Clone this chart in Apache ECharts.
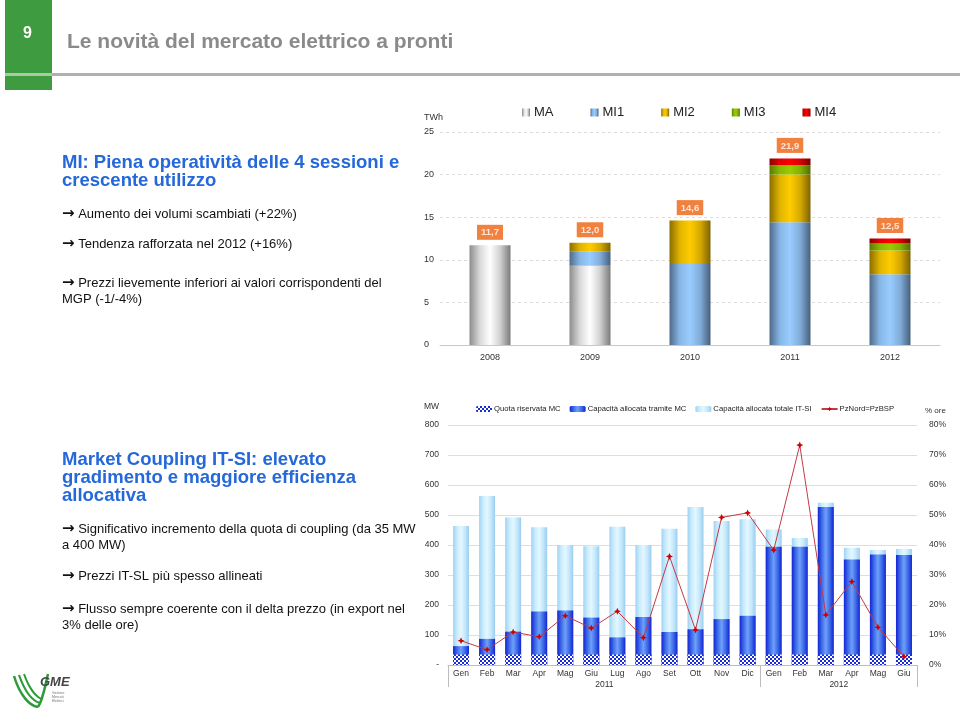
<!DOCTYPE html>
<html><head><meta charset="utf-8">
<script src="https://cdn.jsdelivr.net/npm/echarts@6/dist/echarts.min.js"></script>
<style>html,body{margin:0;padding:0;background:#fff}#c{width:960px;height:708px}</style>
</head><body><div id="c"></div>
<script>
// ---- Top chart data (TWh) ----
const years = ['2008','2009','2010','2011','2012'];
const MA  = [11.7, 9.3, 0, 0, 0];
const MI1 = [0, 1.7, 9.5, 14.4, 8.3];
const MI2 = [0, 1.0, 5.1, 5.6, 2.8];
const MI3 = [0, 0, 0, 1.1, 0.8];
const MI4 = [0, 0, 0, 0.8, 0.6];
const totals = [11.7, 12.0, 14.6, 21.9, 12.5];
const topTicks = [0, 5, 10, 15, 20, 25];

// ---- Bottom chart data (MW, % ore) ----
const months = ['Gen','Feb','Mar','Apr','Mag','Giu','Lug','Ago','Set','Ott','Nov','Dic','Gen','Feb','Mar','Apr','Mag','Giu'];
const yearGroups = ['2011','2012'];
const quotaMC = [35,35,35,35,35,35,35,35,35,35,35,35,35,35,35,35,35,35];
const capMC   = [63,87,111,178,182,158,92,160,110,119,153,164,394,394,527,352,368,367];
const capTot  = [463,563,492,459,400,396,461,400,454,527,480,486,452,423,541,391,383,387];
const pzEqual = [8.1,5.1,11.0,9.4,16.4,12.3,17.9,9.1,36.2,11.7,49.2,50.7,38.3,73.3,16.7,27.8,12.6,2.8];

const FONT = '"Liberation Sans", Arial, sans-serif';
function hg(stops){return {type:'linear',x:0,y:0,x2:1,y2:0,colorStops:stops.map((c,i)=>({offset:i/(stops.length-1),color:c}))};}

const cv = document.createElement('canvas'); cv.width=4; cv.height=4;
const cx = cv.getContext('2d'); cx.fillStyle='#ffffff'; cx.fillRect(0,0,4,4);
cx.fillStyle='#1b2bd6'; cx.fillRect(0,0,2,2); cx.fillRect(2,2,2,2);

const chart = echarts.init(document.getElementById('c'), null, {renderer:'canvas'});

const bodyStyle = {fill:'#111', fontSize:13, fontFamily:FONT, lineHeight:16,
  rich:{a:{fontSize:15, fontFamily:'"DejaVu Sans"', fontWeight:'bold', fill:'#111', lineHeight:16}}};
function txt(x,y,t,st){return {type:'text',left:x,top:y,z:10,style:Object.assign({text:t},st)};}
const headStyle = {fill:'#2468D9', font:'bold 18.5px '+FONT, lineHeight:18};

const option = {
  animation:false,
  textStyle:{fontFamily:FONT},
  grid:[
    {left:440, top:132, width:500, height:213},
    {left:448, top:425, width:469, height:240}
  ],
  legend:[
    {data:['MA','MI1','MI2','MI3','MI4'], left:517, top:101, itemWidth:8, itemHeight:8, itemGap:37,
     icon:'rect', textStyle:{fontSize:13, color:'#222', padding:[0,0,0,-1]}},
    {data:['Quota riservata MC','Capacità allocata tramite MC','Capacità allocata totale IT-SI','PzNord=PzBSP'],
     left:471, top:400, itemWidth:16, itemHeight:6, itemGap:9, textStyle:{fontSize:7.7, color:'#222', padding:[0,0,0,-3]}}
  ],
  xAxis:[
    {gridIndex:0, type:'category', data:years, axisLine:{lineStyle:{color:'#c8c8c8'}},
     axisTick:{length:4, lineStyle:{color:'#c8c8c8'}}, axisLabel:{fontSize:9, color:'#333', margin:8}},
    {gridIndex:1, type:'category', data:months, position:'bottom', axisLine:{lineStyle:{color:'#bdbdbd'}},
     axisTick:{length:12, interval:0, lineStyle:{color:'#bdbdbd'}}, axisLabel:{fontSize:8.5, color:'#333', margin:4, interval:0}},
    {gridIndex:1, type:'value', min:0, max:18, interval:6, position:'bottom', offset:0,
     axisLine:{show:false}, splitLine:{show:false},
     axisTick:{show:true, length:22, customValues:[0,12,18], lineStyle:{color:'#bdbdbd'}},
     axisLabel:{fontSize:8.5, color:'#333', margin:15, customValues:[6,15], formatter:v=>v===6?yearGroups[0]:(v===15?yearGroups[1]:'')}}
  ],
  yAxis:[
    {gridIndex:0, type:'value', min:0, max:25, interval:5, axisLine:{show:false}, axisTick:{show:false},
     splitLine:{lineStyle:{color:'#dcdcdc', type:[3,3]}},
     axisLabel:{fontSize:9, color:'#333', align:'left', margin:16, customValues:topTicks},
     name:'TWh', nameLocation:'end', nameGap:10, nameTextStyle:{fontSize:9, color:'#333', align:'left', padding:[0,0,0,-16]}},
    {gridIndex:1, type:'value', min:0, max:800, interval:100, axisLine:{show:false}, axisTick:{show:false},
     splitLine:{lineStyle:{color:'#dedede'}}, axisLabel:{fontSize:8.5, color:'#333', margin:9, formatter:v=>v===0?'-':v},
     name:'MW', nameLocation:'end', nameGap:14, nameTextStyle:{fontSize:8.5, color:'#333', align:'left', padding:[0,0,0,-24]}},
    {gridIndex:1, type:'value', min:0, max:80, interval:10, position:'right', axisLine:{show:false}, axisTick:{show:false},
     splitLine:{show:false}, axisLabel:{fontSize:8.5, color:'#333', margin:12, formatter:'{value}%'},
     name:'% ore', nameLocation:'end', nameGap:10, nameTextStyle:{fontSize:8, color:'#333', align:'left', padding:[0,0,0,8]}}
  ],
  series:[
    {name:'MA', type:'bar', stack:'t', xAxisIndex:0, yAxisIndex:0, barWidth:41, data:MA,
     itemStyle:{color:hg(['#8c8c8c','#d8d8d8','#ffffff','#d0d0d0','#7a7a7a'])}},
    {name:'MI1', type:'bar', stack:'t', xAxisIndex:0, yAxisIndex:0, barWidth:41, data:MI1,
     itemStyle:{color:hg(['#4f6a88','#86b6e6','#99ccff','#80acd8','#46607c'])}},
    {name:'MI2', type:'bar', stack:'t', xAxisIndex:0, yAxisIndex:0, barWidth:41, data:MI2,
     itemStyle:{color:hg(['#8a6d00','#e0b400','#ffcc00','#d6aa00','#7d6200'])}},
    {name:'MI3', type:'bar', stack:'t', xAxisIndex:0, yAxisIndex:0, barWidth:41, data:MI3,
     itemStyle:{color:hg(['#5a7a00','#88b800','#99cc00','#84b000','#516e00'])}},
    {name:'MI4', type:'bar', stack:'t', xAxisIndex:0, yAxisIndex:0, barWidth:41, data:MI4,
     itemStyle:{color:hg(['#8a0000','#e00000','#ff0000','#d80000','#7a0000'])}},
    {name:'tot', type:'scatter', xAxisIndex:0, yAxisIndex:0, data:totals, symbolSize:1, itemStyle:{color:'rgba(0,0,0,0)'},
     label:{show:true, position:'top', distance:5, formatter:p=>p.value.toFixed(1).replace('.',','),
       color:'#fff', backgroundColor:'#EE620F', padding:[3,4,2,4], fontSize:9.5, fontWeight:'bold'}},

    {name:'Capacità allocata totale IT-SI', type:'bar', xAxisIndex:1, yAxisIndex:1, barWidth:16, barGap:'-100%', data:capTot,
     itemStyle:{color:hg(['#9fd2f4','#c9ecfd','#e4f7ff','#c4e8fb','#9acdf0'])}},
    {name:'Capacità allocata tramite MC', type:'bar', xAxisIndex:1, yAxisIndex:1, barWidth:16, barGap:'-100%', data:capMC,
     itemStyle:{color:hg(['#1224d4','#3d6ae8','#6fa0f8','#3d6ae8','#1224d4'])}},
    {name:'Quota riservata MC', type:'bar', xAxisIndex:1, yAxisIndex:1, barWidth:16, barGap:'-100%', data:quotaMC,
     itemStyle:{color:{image:cv, repeat:'repeat'}}},
    {name:'PzNord=PzBSP', type:'line', xAxisIndex:1, yAxisIndex:2, data:pzEqual,
     lineStyle:{color:'#c23a44', width:1}, symbol:'path://M0,-10 L3,-3 10,0 3,3 0,10 -3,3 -10,0 -3,-3Z', symbolSize:7,
     itemStyle:{color:'#cc0000'}}
  ],
  graphic:[
    {type:'rect', left:5, top:0, z:5, shape:{width:47, height:90}, style:{fill:'#3f9b3f'}},
    {type:'rect', left:5, top:73, z:6, shape:{width:47, height:3}, style:{fill:'#a9c9a9'}},
    {type:'rect', left:52, top:73, z:6, shape:{width:908, height:3}, style:{fill:'#b0b0b0'}},
    txt(23, 26, '9', {fill:'#fff', font:'bold 16px '+FONT}),
    txt(67, 32, 'Le novità del mercato elettrico a pronti', {fill:'#8a8a8a', font:'bold 21px '+FONT}),

    txt(62, 153, 'MI: Piena operatività delle 4 sessioni e\ncrescente utilizzo', headStyle),
    txt(62, 206, '{a|→} Aumento dei volumi scambiati (+22%)', bodyStyle),
    txt(62, 236, '{a|→} Tendenza rafforzata nel 2012 (+16%)', bodyStyle),
    txt(62, 275, '{a|→} Prezzi lievemente inferiori ai valori corrispondenti del\nMGP (-1/-4%)', bodyStyle),

    txt(62, 450, 'Market Coupling IT-SI: elevato\ngradimento e maggiore efficienza\nallocativa', headStyle),
    txt(62, 521, '{a|→} Significativo incremento della quota di coupling (da 35 MW\na 400 MW)', bodyStyle),
    txt(62, 568, '{a|→} Prezzi IT-SL più spesso allineati', bodyStyle),
    txt(62, 601, '{a|→} Flusso sempre coerente con il delta prezzo (in export nel\n3% delle ore)', bodyStyle),

    // logo
    {type:'bezierCurve', z:5, shape:{x1:14,y1:676,x2:38,y2:707,cpx1:20,cpy1:696,cpx2:30,cpy2:706}, style:{stroke:'#2e9b3a', lineWidth:2.5, fill:null}},
    {type:'bezierCurve', z:5, shape:{x1:19,y1:675,x2:40,y2:703,cpx1:25,cpy1:692,cpx2:33,cpy2:701}, style:{stroke:'#2e9b3a', lineWidth:2.2, fill:null}},
    {type:'bezierCurve', z:5, shape:{x1:24,y1:674,x2:42,y2:699,cpx1:29,cpy1:688,cpx2:36,cpy2:697}, style:{stroke:'#2e9b3a', lineWidth:2, fill:null}},
    {type:'bezierCurve', z:5, shape:{x1:38,y1:707,x2:48,y2:674,cpx1:43,cpy1:700,cpx2:45,cpy2:686}, style:{stroke:'#2e9b3a', lineWidth:2.5, fill:null}},
    txt(40, 676, 'GME', {fill:'#444', font:'italic bold 13px '+FONT}),
    txt(52, 691, 'Gestore\nMercati\nElettrici', {fill:'#777', font:'3.5px '+FONT, lineHeight:4})
  ]
};
chart.setOption(option);
</script>
</body></html>
